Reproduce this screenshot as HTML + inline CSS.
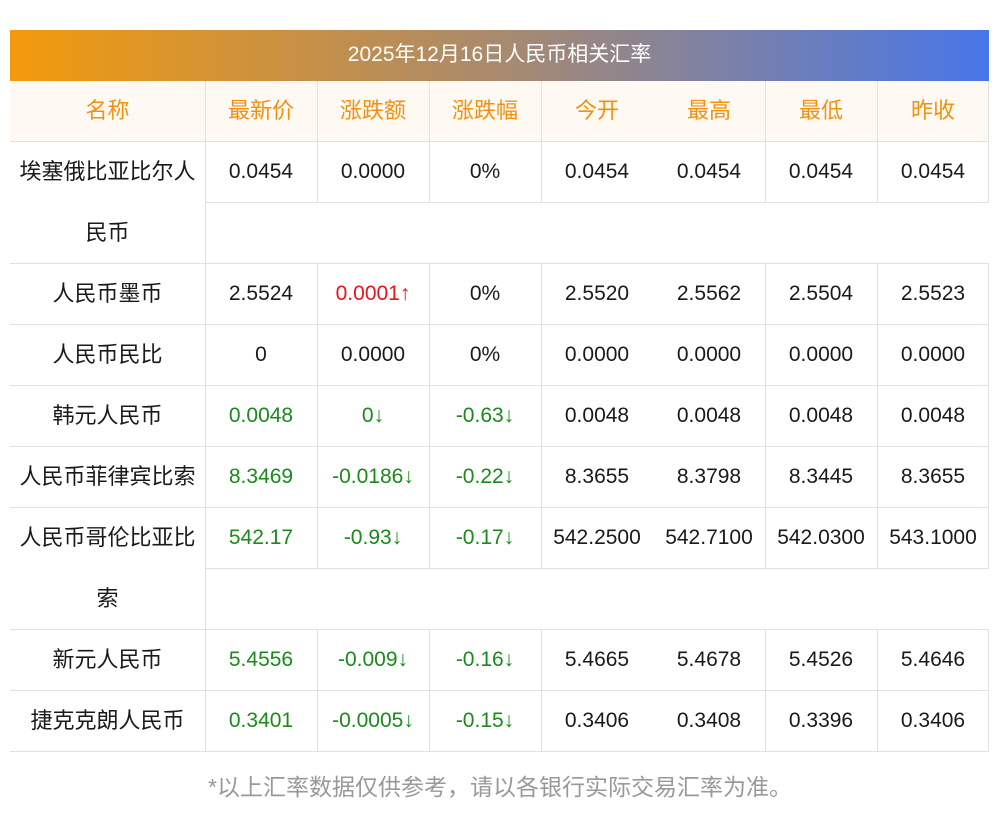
<!DOCTYPE html>
<html><head><meta charset="utf-8"><style>
body{margin:0;width:1000px;height:817px;background:#fff;position:relative;overflow:hidden;font-family:"Liberation Sans","Noto Sans CJK SC",sans-serif;}
.t{position:absolute;left:10px;top:30px;width:979px;height:51px;background:linear-gradient(90deg,#f39a0b,#a98a6e 50%,#4776e9);color:#fff;font-size:21px;line-height:49px;text-align:center}
.hb{position:absolute;left:10px;top:81px;width:979px;height:61px;background:#fef9f3}
.c{position:absolute;height:61px;line-height:59px;text-align:center;font-size:21px;color:#1a1a1a}
.n{font-size:22px}
.h{color:#f4900f;font-size:22px}
.r{color:#e8141a}.g{color:#1a8a1a}
.hl{position:absolute;height:1px;background:#dfe1e8}
.vl{position:absolute;width:1px;background:#dfe1e8}
.f{position:absolute;left:0;width:1000px;top:768px;text-align:center;font-size:23px;color:#999}
</style></head><body>
<div class="t">2025年12月16日人民币相关汇率</div>
<div class="hb"></div>
<div id="g"></div>
<div class="f">*以上汇率数据仅供参考，请以各银行实际交易汇率为准。</div>
<script>
var X=[10,205,317,429,541,653,765,877,989];
var rows=[
["名称","最新价","涨跌额","涨跌幅","今开","最高","最低","昨收"],
["埃塞俄比亚比尔人","0.0454","0.0000","0%","0.0454","0.0454","0.0454","0.0454"],
["人民币墨币","2.5524","r0.0001↑","0%","2.5520","2.5562","2.5504","2.5523"],
["人民币民比","0","0.0000","0%","0.0000","0.0000","0.0000","0.0000"],
["韩元人民币","g0.0048","g0↓","g-0.63↓","0.0048","0.0048","0.0048","0.0048"],
["人民币菲律宾比索","g8.3469","g-0.0186↓","g-0.22↓","8.3655","8.3798","8.3445","8.3655"],
["人民币哥伦比亚比","g542.17","g-0.93↓","g-0.17↓","542.2500","542.7100","542.0300","543.1000"],
["新元人民币","g5.4556","g-0.009↓","g-0.16↓","5.4665","5.4678","5.4526","5.4646"],
["捷克克朗人民币","g0.3401","g-0.0005↓","g-0.15↓","0.3406","0.3408","0.3396","0.3406"]];
var Y=[81,142,264,325,386,447,508,630,691,752];
var h='';
function c(x,y,w,t,cl){h+='<div class="c '+cl+'" style="left:'+x+'px;top:'+y+'px;width:'+w+'px">'+t+'</div>';}
function hl(x,y,w){h+='<div class="hl" style="left:'+x+'px;top:'+y+'px;width:'+w+'px"></div>';}
function vl(x,y,hh){h+='<div class="vl" style="left:'+x+'px;top:'+y+'px;height:'+hh+'px"></div>';}
for(var i=0;i<rows.length;i++){
 var y=Y[i];
 for(var j=0;j<8;j++){var t=rows[i][j],cl=i==0?'h':(j==0?'n':'');
  if(t[0]=='r'||t[0]=='g'){cl=t[0];t=t.slice(1);}
  c(X[j],y,X[j+1]-X[j],t,cl);}
 hl(10,Y[i+1]-1,979);
 var tall=(Y[i+1]-y)>70;
 if(tall){hl(205,y+60,784);c(10,y+61,195,i==1?'民币':'索','n');}
 [205,317,429,541,765,877,988].forEach(function(x){vl(x,y,x==205?Y[i+1]-y:61);});
}
document.getElementById('g').innerHTML=h;
</script>
</body></html>
